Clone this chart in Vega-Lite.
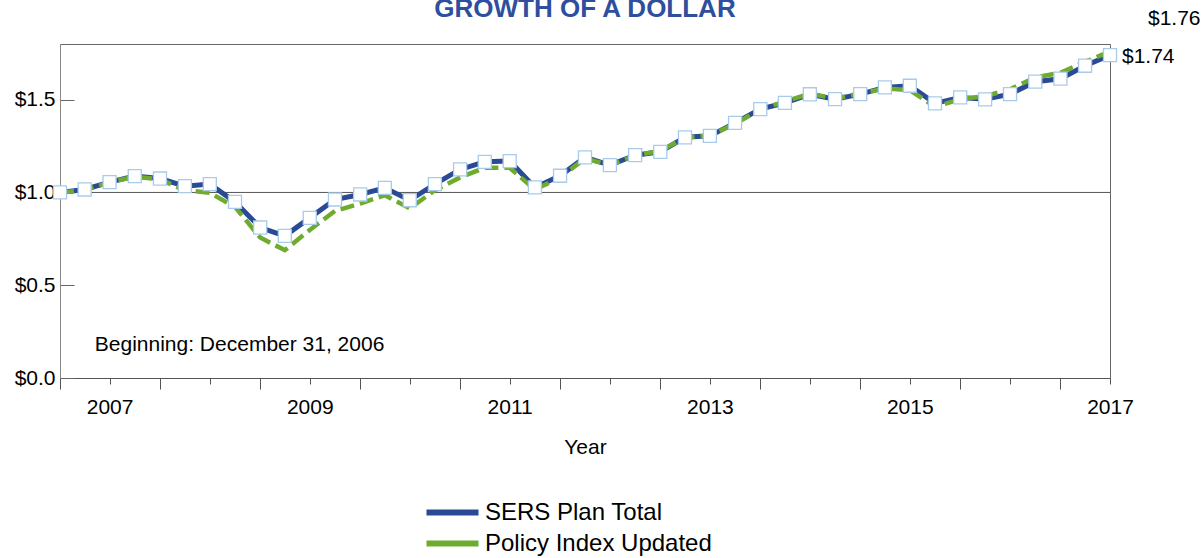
{
  "$schema": "https://vega.github.io/schema/vega-lite/v6.json",
  "width": 1050,
  "height": 334,
  "autosize": {"type": "none"},
  "padding": {"left": 60, "top": 44, "right": 93, "bottom": 180},
  "background": "white",
  "config": {"font": "Liberation Sans", "view": {"stroke": "#666", "strokeWidth": 1}},
  "title": {"text": "GROWTH OF A DOLLAR", "fontSize": 26, "fontWeight": "bold", "color": "#2E4E9E", "baseline": "alphabetic", "offset": -35, "anchor": "middle", "font": "Liberation Sans"},
  "data": {"values": [
    {"date": "2006-12-31", "series": "SERS Plan Total", "value": 1.000},
    {"date": "2007-03-31", "series": "SERS Plan Total", "value": 1.016},
    {"date": "2007-06-30", "series": "SERS Plan Total", "value": 1.056},
    {"date": "2007-09-30", "series": "SERS Plan Total", "value": 1.088},
    {"date": "2007-12-31", "series": "SERS Plan Total", "value": 1.075},
    {"date": "2008-03-31", "series": "SERS Plan Total", "value": 1.034},
    {"date": "2008-06-30", "series": "SERS Plan Total", "value": 1.045},
    {"date": "2008-09-30", "series": "SERS Plan Total", "value": 0.949},
    {"date": "2008-12-31", "series": "SERS Plan Total", "value": 0.811},
    {"date": "2009-03-31", "series": "SERS Plan Total", "value": 0.766},
    {"date": "2009-06-30", "series": "SERS Plan Total", "value": 0.863},
    {"date": "2009-09-30", "series": "SERS Plan Total", "value": 0.962},
    {"date": "2009-12-31", "series": "SERS Plan Total", "value": 0.989},
    {"date": "2010-03-31", "series": "SERS Plan Total", "value": 1.025},
    {"date": "2010-06-30", "series": "SERS Plan Total", "value": 0.958},
    {"date": "2010-09-30", "series": "SERS Plan Total", "value": 1.045},
    {"date": "2010-12-31", "series": "SERS Plan Total", "value": 1.124},
    {"date": "2011-03-31", "series": "SERS Plan Total", "value": 1.165},
    {"date": "2011-06-30", "series": "SERS Plan Total", "value": 1.169},
    {"date": "2011-09-30", "series": "SERS Plan Total", "value": 1.027},
    {"date": "2011-12-31", "series": "SERS Plan Total", "value": 1.090},
    {"date": "2012-03-31", "series": "SERS Plan Total", "value": 1.189},
    {"date": "2012-06-30", "series": "SERS Plan Total", "value": 1.147},
    {"date": "2012-09-30", "series": "SERS Plan Total", "value": 1.201},
    {"date": "2012-12-31", "series": "SERS Plan Total", "value": 1.219},
    {"date": "2013-03-31", "series": "SERS Plan Total", "value": 1.297},
    {"date": "2013-06-30", "series": "SERS Plan Total", "value": 1.305},
    {"date": "2013-09-30", "series": "SERS Plan Total", "value": 1.375},
    {"date": "2013-12-31", "series": "SERS Plan Total", "value": 1.449},
    {"date": "2014-03-31", "series": "SERS Plan Total", "value": 1.483},
    {"date": "2014-06-30", "series": "SERS Plan Total", "value": 1.529},
    {"date": "2014-09-30", "series": "SERS Plan Total", "value": 1.503},
    {"date": "2014-12-31", "series": "SERS Plan Total", "value": 1.530},
    {"date": "2015-03-31", "series": "SERS Plan Total", "value": 1.566},
    {"date": "2015-06-30", "series": "SERS Plan Total", "value": 1.575},
    {"date": "2015-09-30", "series": "SERS Plan Total", "value": 1.480},
    {"date": "2015-12-31", "series": "SERS Plan Total", "value": 1.512},
    {"date": "2016-03-31", "series": "SERS Plan Total", "value": 1.502},
    {"date": "2016-06-30", "series": "SERS Plan Total", "value": 1.530},
    {"date": "2016-09-30", "series": "SERS Plan Total", "value": 1.597},
    {"date": "2016-12-31", "series": "SERS Plan Total", "value": 1.613},
    {"date": "2017-03-31", "series": "SERS Plan Total", "value": 1.683},
    {"date": "2017-06-30", "series": "SERS Plan Total", "value": 1.740},
    {"date": "2006-12-31", "series": "Policy Index Updated", "value": 1.000},
    {"date": "2007-03-31", "series": "Policy Index Updated", "value": 1.012},
    {"date": "2007-06-30", "series": "Policy Index Updated", "value": 1.055},
    {"date": "2007-09-30", "series": "Policy Index Updated", "value": 1.085},
    {"date": "2007-12-31", "series": "Policy Index Updated", "value": 1.070},
    {"date": "2008-03-31", "series": "Policy Index Updated", "value": 1.012},
    {"date": "2008-06-30", "series": "Policy Index Updated", "value": 0.998},
    {"date": "2008-09-30", "series": "Policy Index Updated", "value": 0.922},
    {"date": "2008-12-31", "series": "Policy Index Updated", "value": 0.757},
    {"date": "2009-03-31", "series": "Policy Index Updated", "value": 0.689},
    {"date": "2009-06-30", "series": "Policy Index Updated", "value": 0.798},
    {"date": "2009-09-30", "series": "Policy Index Updated", "value": 0.900},
    {"date": "2009-12-31", "series": "Policy Index Updated", "value": 0.940},
    {"date": "2010-03-31", "series": "Policy Index Updated", "value": 0.985},
    {"date": "2010-06-30", "series": "Policy Index Updated", "value": 0.914},
    {"date": "2010-09-30", "series": "Policy Index Updated", "value": 1.012},
    {"date": "2010-12-31", "series": "Policy Index Updated", "value": 1.081},
    {"date": "2011-03-31", "series": "Policy Index Updated", "value": 1.133},
    {"date": "2011-06-30", "series": "Policy Index Updated", "value": 1.133},
    {"date": "2011-09-30", "series": "Policy Index Updated", "value": 1.015},
    {"date": "2011-12-31", "series": "Policy Index Updated", "value": 1.081},
    {"date": "2012-03-31", "series": "Policy Index Updated", "value": 1.183},
    {"date": "2012-06-30", "series": "Policy Index Updated", "value": 1.147},
    {"date": "2012-09-30", "series": "Policy Index Updated", "value": 1.200},
    {"date": "2012-12-31", "series": "Policy Index Updated", "value": 1.224},
    {"date": "2013-03-31", "series": "Policy Index Updated", "value": 1.295},
    {"date": "2013-06-30", "series": "Policy Index Updated", "value": 1.307},
    {"date": "2013-09-30", "series": "Policy Index Updated", "value": 1.370},
    {"date": "2013-12-31", "series": "Policy Index Updated", "value": 1.447},
    {"date": "2014-03-31", "series": "Policy Index Updated", "value": 1.490},
    {"date": "2014-06-30", "series": "Policy Index Updated", "value": 1.532},
    {"date": "2014-09-30", "series": "Policy Index Updated", "value": 1.507},
    {"date": "2014-12-31", "series": "Policy Index Updated", "value": 1.533},
    {"date": "2015-03-31", "series": "Policy Index Updated", "value": 1.560},
    {"date": "2015-06-30", "series": "Policy Index Updated", "value": 1.552},
    {"date": "2015-09-30", "series": "Policy Index Updated", "value": 1.462},
    {"date": "2015-12-31", "series": "Policy Index Updated", "value": 1.502},
    {"date": "2016-03-31", "series": "Policy Index Updated", "value": 1.519},
    {"date": "2016-06-30", "series": "Policy Index Updated", "value": 1.556},
    {"date": "2016-09-30", "series": "Policy Index Updated", "value": 1.620},
    {"date": "2016-12-31", "series": "Policy Index Updated", "value": 1.645},
    {"date": "2017-03-31", "series": "Policy Index Updated", "value": 1.704},
    {"date": "2017-06-30", "series": "Policy Index Updated", "value": 1.760}
  ]},
  "layer": [
    {
      "data": {"values": [{}]},
      "mark": {"type": "rule", "color": "#555", "strokeWidth": 1},
      "encoding": {"y": {"datum": 1, "type": "quantitative"}}
    },
    {
      "transform": [{"filter": "datum.series === 'SERS Plan Total'"}],
      "mark": {"type": "line", "strokeWidth": 5},
      "encoding": {
        "x": {
          "field": "date", "type": "temporal",
          "scale": {"type": "utc", "domain": [{"year": 2006, "month": 12, "date": 31, "utc": true}, {"year": 2017, "month": 6, "date": 30, "utc": true}]},
          "axis": {
            "title": "Year", "titleFontSize": 21, "titleFontWeight": "normal", "titleColor": "black", "titlePadding": 14,
            "values": [
              {"year": 2006, "month": 12, "date": 31, "utc": true},
              {"year": 2007, "month": 3, "date": 31, "utc": true}, {"year": 2007, "month": 6, "date": 30, "utc": true}, {"year": 2007, "month": 9, "date": 30, "utc": true}, {"year": 2007, "month": 12, "date": 31, "utc": true},
              {"year": 2008, "month": 3, "date": 31, "utc": true}, {"year": 2008, "month": 6, "date": 30, "utc": true}, {"year": 2008, "month": 9, "date": 30, "utc": true}, {"year": 2008, "month": 12, "date": 31, "utc": true},
              {"year": 2009, "month": 3, "date": 31, "utc": true}, {"year": 2009, "month": 6, "date": 30, "utc": true}, {"year": 2009, "month": 9, "date": 30, "utc": true}, {"year": 2009, "month": 12, "date": 31, "utc": true},
              {"year": 2010, "month": 3, "date": 31, "utc": true}, {"year": 2010, "month": 6, "date": 30, "utc": true}, {"year": 2010, "month": 9, "date": 30, "utc": true}, {"year": 2010, "month": 12, "date": 31, "utc": true},
              {"year": 2011, "month": 3, "date": 31, "utc": true}, {"year": 2011, "month": 6, "date": 30, "utc": true}, {"year": 2011, "month": 9, "date": 30, "utc": true}, {"year": 2011, "month": 12, "date": 31, "utc": true},
              {"year": 2012, "month": 3, "date": 31, "utc": true}, {"year": 2012, "month": 6, "date": 30, "utc": true}, {"year": 2012, "month": 9, "date": 30, "utc": true}, {"year": 2012, "month": 12, "date": 31, "utc": true},
              {"year": 2013, "month": 3, "date": 31, "utc": true}, {"year": 2013, "month": 6, "date": 30, "utc": true}, {"year": 2013, "month": 9, "date": 30, "utc": true}, {"year": 2013, "month": 12, "date": 31, "utc": true},
              {"year": 2014, "month": 3, "date": 31, "utc": true}, {"year": 2014, "month": 6, "date": 30, "utc": true}, {"year": 2014, "month": 9, "date": 30, "utc": true}, {"year": 2014, "month": 12, "date": 31, "utc": true},
              {"year": 2015, "month": 3, "date": 31, "utc": true}, {"year": 2015, "month": 6, "date": 30, "utc": true}, {"year": 2015, "month": 9, "date": 30, "utc": true}, {"year": 2015, "month": 12, "date": 31, "utc": true},
              {"year": 2016, "month": 3, "date": 31, "utc": true}, {"year": 2016, "month": 6, "date": 30, "utc": true}, {"year": 2016, "month": 9, "date": 30, "utc": true}, {"year": 2016, "month": 12, "date": 31, "utc": true},
              {"year": 2017, "month": 3, "date": 31, "utc": true}, {"year": 2017, "month": 6, "date": 30, "utc": true}
            ],
            "labelExpr": "utcmonth(datum.value) == 5 && utcyear(datum.value) % 2 == 1 ? utcFormat(datum.value, '%Y') : ''",
            "labelOverlap": false, "labelFlush": false, "labelFontSize": 21, "labelColor": "black", "labelPadding": 12,
            "tickColor": "#555", "domainColor": "#555", "grid": false,
            "tickSize": {"condition": {"test": "utcmonth(datum.value) == 11", "value": 11}, "value": 6}
          }
        },
        "y": {
          "field": "value", "type": "quantitative",
          "scale": {"domain": [0, 1.8], "nice": false},
          "axis": {"title": null, "values": [0, 0.5, 1, 1.5], "format": "$.1f", "grid": false, "tickSize": -14, "tickColor": "#666", "domainColor": "#888", "labelFontSize": 21, "labelColor": "black", "labelPadding": 19}
        },
        "color": {
          "field": "series", "type": "nominal",
          "scale": {"domain": ["SERS Plan Total", "Policy Index Updated"], "range": ["#2B4A96", "#6EAB2E"]},
          "legend": {"title": null, "orient": "none", "legendX": 379, "legendY": 455, "direction": "vertical", "symbolType": "M-2.5,0H2.5", "symbolStrokeWidth": 6, "symbolSize": 433, "labelFontSize": 24, "labelColor": "black", "rowPadding": 5, "labelOffset": 19, "labelLimit": 500}
        }
      }
    },
    {
      "transform": [{"filter": "datum.series === 'Policy Index Updated'"}],
      "mark": {"type": "line", "strokeWidth": 4.5, "strokeDash": [14, 6]},
      "encoding": {
        "x": {"field": "date", "type": "temporal"},
        "y": {"field": "value", "type": "quantitative"},
        "color": {"field": "series", "type": "nominal"}
      }
    },
    {
      "transform": [{"filter": "datum.series === 'SERS Plan Total'"}],
      "mark": {"type": "point", "shape": "square", "filled": true, "fill": "white", "stroke": "#A8CBEA", "strokeWidth": 1.3, "size": 170, "opacity": 1},
      "encoding": {
        "x": {"field": "date", "type": "temporal"},
        "y": {"field": "value", "type": "quantitative"}
      }
    },
    {
      "transform": [{"filter": "datum.series === 'SERS Plan Total' && utcyear(datum.date) == 2017 && utcmonth(datum.date) == 5"}],
      "mark": {"type": "text", "align": "left", "baseline": "middle", "dx": 12, "dy": 2, "fontSize": 21, "color": "black"},
      "encoding": {
        "x": {"field": "date", "type": "temporal"},
        "y": {"field": "value", "type": "quantitative"},
        "text": {"field": "value", "type": "quantitative", "format": "$.2f"}
      }
    },
    {
      "transform": [{"filter": "datum.series === 'Policy Index Updated' && utcyear(datum.date) == 2017 && utcmonth(datum.date) == 5"}],
      "mark": {"type": "text", "align": "left", "baseline": "middle", "dx": 38, "dy": -32, "fontSize": 21, "color": "black"},
      "encoding": {
        "x": {"field": "date", "type": "temporal"},
        "y": {"field": "value", "type": "quantitative"},
        "text": {"field": "value", "type": "quantitative", "format": "$.2f"}
      }
    },
    {
      "data": {"values": [{"note": "Beginning: December 31, 2006"}]},
      "mark": {"type": "text", "align": "left", "baseline": "middle", "fontSize": 21, "color": "black"},
      "encoding": {
        "x": {"datum": {"year": 2007, "month": 5, "date": 7, "utc": true}, "type": "temporal"},
        "y": {"datum": 0.178, "type": "quantitative"},
        "text": {"field": "note", "type": "nominal"}
      }
    }
  ]
}
